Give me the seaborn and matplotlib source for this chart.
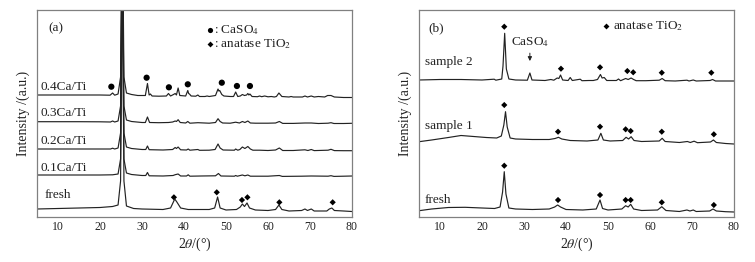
import numpy as np
import pandas as pd
import seaborn as sns
import matplotlib.pyplot as plt

# ---- panel (a): XRD patterns, (2theta, intensity) ----
fresh_a = [(5, 2), (10, 2.5), (15, 3), (20, 3.5), (23, 4.5), (24.3, 6), (24.9, 30), (25.3, 260), (25.7, 30),
           (26.3, 5), (28, 2.5), (30, 2), (35, 1.5), (36.8, 3), (37.8, 12), (38.3, 9), (39.2, 3), (41, 1.5),
           (46, 1.5), (47.3, 3), (48.0, 14), (48.6, 3), (50, 1), (52.5, 1.5), (53.4, 4), (53.9, 7), (54.4, 4.5),
           (55.0, 8), (55.6, 3), (57, 1), (60, 0.5), (61.8, 1.5), (62.6, 6), (63.3, 1.5), (65, 0), (68, 0.5),
           (68.8, 2), (69.4, 0.5), (70.3, 2), (71, 0), (74, 0), (74.6, 2), (75.2, 3), (75.8, 0.5), (78, 0),
           (80, -0.5)]
ca01 = [(5, 2), (10, 2), (15, 2), (20, 2), (23, 2.2), (24.3, 3), (24.9, 18), (25.3, 220), (25.7, 18), (26.3, 4),
        (27.5, 2.5), (30, 1.5), (30.9, 1.5), (31.3, 4.5), (31.7, 1.2), (35, 1), (37.4, 1.5), (37.9, 2.3),
        (38.6, 3), (39.2, 1), (40.6, 1), (41.0, 2.2), (41.4, 0.8), (44, 1), (47.5, 1.2), (48.2, 3.5), (48.8, 1),
        (52, 0.8), (52.3, 1.5), (52.7, 0.8), (53.9, 2), (54.5, 1.2), (55.2, 2), (55.8, 0.8), (60, 0.8),
        (62.7, 1.5), (63.4, 0.6), (68, 0.8), (70.3, 1), (74.3, 0.8), (75.0, 1.3), (75.7, 0.6), (78, 0.8),
        (80, 1)]
ca02 = [(5, 2), (10, 2), (15, 2), (20, 2), (22.5, 2), (23, 2.8), (23.5, 2), (24.3, 3), (24.9, 18), (25.3, 220),
        (25.7, 18), (26.3, 4), (27.5, 2.5), (30, 1.5), (30.9, 1.5), (31.3, 5), (31.7, 1.3), (35, 1), (37.3, 1.5),
        (37.9, 3.5), (38.2, 2.5), (38.6, 4), (39.2, 1.2), (40.6, 1), (41.0, 2), (41.4, 0.8), (43.3, 1.5),
        (43.7, 0.7), (46, 0.8), (47.4, 1.5), (48.1, 7), (48.6, 3), (49.3, 1), (52, 0.8), (52.3, 2), (52.8, 0.8),
        (53.3, 1.5), (53.9, 4), (54.5, 2.5), (55.2, 4.5), (55.8, 2), (56.4, 0.8), (58, 0.8), (60, 0.5),
        (61.8, 1), (62.7, 3), (63.5, 0.5), (66, 0.5), (68.8, 1.2), (69.5, 0.5), (70.3, 1.5), (71, 0.4),
        (74.3, 0.8), (75.0, 1.7), (75.8, 0.4), (78, 0.3), (80, 0.3)]
ca03 = [(5, 2.3), (10, 2.3), (15, 2.3), (20, 2.2), (22.5, 2), (23.0, 3), (23.5, 2), (24.3, 3), (24.9, 18),
        (25.3, 200), (25.7, 18), (26.3, 4), (27.5, 2.5), (30, 1.5), (30.8, 1.5), (31.3, 7), (31.8, 1.5),
        (34, 1.3), (36.3, 1.5), (37.3, 2), (37.9, 3), (38.2, 2.5), (38.6, 4.3), (39.1, 1.5), (40.4, 1),
        (40.9, 2.5), (41.4, 0.8), (43.3, 1.3), (46, 0.8), (47.5, 1.5), (48.1, 5.3), (48.6, 2.5), (49.2, 1),
        (51, 0.8), (52.3, 1.8), (53.2, 1), (53.9, 2.5), (54.5, 1.5), (55.2, 3), (55.8, 1), (57, 0.8), (60, 0.8),
        (61.8, 1), (62.7, 2.5), (63.5, 0.6), (66, 0.6), (68.8, 1), (70.3, 1), (72, 0.5), (74.3, 0.8),
        (75.0, 1.3), (75.7, 0.5), (78, 0.5), (80, 0.7)]
ca04 = [(5, 2), (10, 2), (15, 2), (20, 2), (22.4, 1.8), (23.0, 4), (23.5, 1.8), (24.3, 3), (24.9, 20),
        (25.3, 200), (25.7, 20), (26.3, 4), (27.5, 2.5), (29, 1.5), (30.8, 1.5), (31.3, 13.5), (31.7, 2),
        (32.0, 3), (32.4, 1), (34, 0.8), (35.8, 1), (36.3, 3.5), (36.8, 1), (37.5, 2.5), (37.9, 3.5), (38.2, 2),
        (38.6, 9), (39.0, 1.5), (40.4, 1), (40.9, 6.5), (41.1, 3.5), (41.3, 3), (41.7, 1), (42.8, 0.8),
        (43.3, 2), (43.7, 0.5), (45, 0.5), (45.5, 1), (46, 0.5), (47.5, 1.5), (48.1, 8), (48.3, 6), (48.5, 6.5),
        (49.0, 2.5), (49.5, 1), (51, 0.5), (51.8, 0.5), (52.3, 5), (52.8, 0.5), (53.4, 1), (53.9, 2.5),
        (54.4, 1.5), (54.9, 2), (55.2, 3.5), (55.45, 2), (55.7, 3), (56.2, 0.5), (57.5, 0.3), (58.0, 1),
        (58.5, 0.3), (59.2, 1), (60, 0.2), (60.8, 0.5), (61.5, 0), (62.0, 0.5), (62.6, 4), (63.3, 0.5),
        (65, 0), (65.5, 0.5), (66, 0), (68.2, 0), (68.8, 1), (69.4, 0), (70.3, 1), (71, 0), (72, 0.5),
        (73.5, 0), (74.2, 1.5), (75.0, 1.5), (75.8, 0), (78, -0.5), (80, -0.5)]

curves_a = {"fresh": fresh_a, "0.1Ca/Ti": ca01, "0.2Ca/Ti": ca02, "0.3Ca/Ti": ca03, "0.4Ca/Ti": ca04}
offsets_a = {"fresh": 6, "0.1Ca/Ti": 40, "0.2Ca/Ti": 66, "0.3Ca/Ti": 93, "0.4Ca/Ti": 120}

caso4_x = [22.7, 31.1, 36.4, 40.9, 49.0, 52.6, 55.7]
caso4_y = [10.3, 19.3, 9.7, 12.7, 14.3, 11, 11]          # on 0.4Ca/Ti
tio2_a_x = [37.6, 47.8, 53.8, 55.1, 62.7, 75.4]
tio2_a_y = [13.7, 18.7, 11, 13.7, 8.7, 8.7]              # on fresh

# ---- panel (b) ----
fresh_b = [(5, 1.3), (8, 3), (12, 4.5), (16, 4.7), (20, 4), (23, 3.5), (24.3, 5), (24.9, 20), (25.3, 40.3),
           (25.7, 18), (26.4, 4), (28, 3), (32, 2.5), (36, 3), (37.3, 5), (38.0, 7), (38.7, 5), (40, 2.5),
           (44, 2), (47.2, 3), (48.1, 12), (48.7, 3.5), (50, 2), (53.3, 3), (54.2, 6.3), (54.8, 5), (55.4, 7.7),
           (56.1, 3), (58, 1.5), (61.8, 2), (62.8, 5.3), (63.8, 1.5), (67, 0.5), (68.8, 2), (69.5, 1),
           (70.3, 2), (71, 0.5), (74.2, 1), (75.0, 3), (75.8, 1), (78, 0.3), (80, 0)]
sample1 = [(5, 1.3), (8, 3), (12, 5.5), (15, 7.5), (18, 6.5), (21, 5.5), (23.5, 5), (24.6, 7), (25.2, 18),
           (25.6, 31.3), (26.0, 16), (26.7, 5), (28, 4), (32, 3.5), (36, 3.5), (37.4, 4.5), (38.2, 5.7), (39, 4),
           (41, 2.5), (45, 2), (47.6, 3), (48.3, 9.7), (48.9, 3), (50.5, 2), (53.5, 2.5), (54.3, 5.7), (54.9, 4),
           (55.5, 6.3), (56.2, 2.5), (58, 1.5), (62.2, 2), (62.9, 4.7), (63.6, 1.5), (67, 0.5), (68.9, 1.5),
           (69.6, 0.5), (70.5, 1.8), (71.3, 0.3), (74.4, 1), (75.1, 3), (75.8, 0.5), (78, -0.5), (80, -1)]
sample2 = [(5, 1), (10, 1.5), (15, 1.5), (20, 1), (22.9, 1.8), (23.3, 0.8), (24.7, 2), (25.0, 15), (25.4, 47.7),
           (25.8, 12), (26.4, 2), (28, 1), (30.8, 0.8), (31.4, 8), (31.9, 1), (35, 0.5), (36.4, 1.5), (37.1, 0.8),
           (37.9, 3), (38.3, 2.5), (38.7, 6), (39.2, 1), (40.5, 0.5), (41.0, 3.5), (41.5, 0.5), (43.4, 1.8),
           (43.8, 0.3), (45.5, 0.5), (46.5, 0.5), (47.5, 1.5), (48.2, 6.5), (48.6, 3), (49.1, 3.5), (49.7, 0.5),
           (52.0, 0.5), (52.5, 2), (53.0, 0.3), (54.2, 2.5), (54.8, 1.5), (55.5, 3), (56.1, 1.5), (56.7, 0.3),
           (59, 0.3), (62.2, 0.8), (62.9, 2.5), (63.6, 0.3), (66, 0), (68.8, 0.8), (69.3, 0), (70.3, 1),
           (71, 0), (74.3, 0.5), (74.9, 1.5), (75.6, 0), (78, 0), (80, 0)]

curves_b = {"fresh": fresh_b, "sample 1": sample1, "sample 2": sample2}
offsets_b = {"fresh": 5, "sample 1": 74, "sample 2": 136}

tio2_b_x = {"sample 2": [25.3, 38.8, 48.1, 54.6, 56.0, 62.8, 74.6],
            "sample 1": [25.3, 38.1, 48.1, 54.2, 55.4, 62.8, 75.2],
            "fresh": [25.3, 38.1, 48.1, 54.2, 55.4, 62.8, 75.2]}
tio2_b_y = {"sample 2": [54.3, 12.3, 13.7, 10, 8.7, 8.3, 8.3],
            "sample 1": [38, 11.3, 16.3, 13.7, 12, 11.3, 8.7],
            "fresh": [46.3, 12, 17, 12, 12, 9.7, 7]}

sns.set_style("white")
plt.rcParams["font.family"] = ["Liberation Serif", "DejaVu Serif"]
plt.rcParams["mathtext.fontset"] = "stix"

ink = "#222222"
frame = "#808080"

fig = plt.figure(figsize=(7.55, 2.62), dpi=100)
ax_a = fig.add_axes([37 / 755, 45 / 262, 315 / 755, 207 / 262])
ax_b = fig.add_axes([419 / 755, 45 / 262, 315 / 755, 207 / 262])


def long_frame(curves, offsets):
    rows = []
    for name, pts in curves.items():
        arr = np.array(pts, dtype=float)
        rows.append(pd.DataFrame({"two_theta": arr[:, 0],
                                  "intensity": arr[:, 1] + offsets[name],
                                  "sample": name}))
    return pd.concat(rows, ignore_index=True)


for ax, curves, offsets in [(ax_a, curves_a, offsets_a), (ax_b, curves_b, offsets_b)]:
    df = long_frame(curves, offsets)
    sns.lineplot(data=df, x="two_theta", y="intensity", units="sample", estimator=None,
                 sort=False, color=ink, lw=0.85, ax=ax)
    ax.set_xlim(5, 80)
    ax.set_ylim(0, 207)
    ax.set_xticks(range(10, 81, 10))
    ax.set_yticks([])
    ax.tick_params(axis="x", direction="in", length=4, width=0.8, color=frame,
                   labelsize=8.5, labelcolor=ink, pad=3)
    for sp in ax.spines.values():
        sp.set_color(frame)
        sp.set_linewidth(0.9)
    ax.set_xlabel(r"2$\theta$/(°)", fontsize=10, color=ink, labelpad=2)
    ax.set_ylabel("Intensity /(a.u.)", fontsize=10, color=ink, labelpad=5)

# markers panel (a)
sns.scatterplot(x=caso4_x, y=np.array(caso4_y) + offsets_a["0.4Ca/Ti"], ax=ax_a,
                marker="o", s=20, color="black", edgecolor="none")
sns.scatterplot(x=tio2_a_x, y=np.array(tio2_a_y) + offsets_a["fresh"], ax=ax_a,
                marker="D", s=10, color="black", edgecolor="none")
# markers panel (b)
for name in curves_b:
    sns.scatterplot(x=tio2_b_x[name], y=np.array(tio2_b_y[name]) + offsets_b[name], ax=ax_b,
                    marker="D", s=10, color="black", edgecolor="none")

# labels panel (a)
txt = dict(fontsize=9.5, color=ink, va="center")
ax_a.text(0.06, 0.913, "(a)", transform=ax_a.transAxes, ha="center", **txt)
label_pos_a = {"0.4Ca/Ti": (0.012, 0.63), "0.3Ca/Ti": (0.012, 0.501), "0.2Ca/Ti": (0.012, 0.369),
               "0.1Ca/Ti": (0.012, 0.235), "fresh": (0.023, 0.106)}
for name, (x, y) in label_pos_a.items():
    ax_a.text(x, y, name, transform=ax_a.transAxes, ha="left", **txt)
ax_a.scatter([0.548], [0.903], transform=ax_a.transAxes, marker="o", s=14, color="black", lw=0)
ax_a.scatter([0.548], [0.834], transform=ax_a.transAxes, marker="D", s=9, color="black", lw=0)
ax_a.text(0.561, 0.903, r": CaSO$_4$", transform=ax_a.transAxes, ha="left", **txt)
ax_a.text(0.561, 0.834, r": anatase TiO$_2$", transform=ax_a.transAxes, ha="left", **txt)

# labels panel (b)
ax_b.text(0.054, 0.913, "(b)", transform=ax_b.transAxes, ha="center", **txt)
label_pos_b = {"sample 2": (0.02, 0.75), "sample 1": (0.02, 0.44), "fresh": (0.018, 0.082)}
for name, (x, y) in label_pos_b.items():
    ax_b.text(x, y, name, transform=ax_b.transAxes, ha="left", **txt)
ax_b.scatter([0.594], [0.923], transform=ax_b.transAxes, marker="D", s=9, color="black", lw=0)
ax_b.text(0.615, 0.923, r"anatase TiO$_2$", transform=ax_b.transAxes, ha="left", **txt)
ax_b.text(0.352, 0.845, r"CaSO$_4$", transform=ax_b.transAxes, ha="center", **txt)
ax_b.annotate("", xy=(0.352, 0.74), xytext=(0.352, 0.805), xycoords="axes fraction",
              arrowprops=dict(arrowstyle="-|>", color=ink, lw=0.7, mutation_scale=6))

fig.savefig("out.png", dpi=100)
